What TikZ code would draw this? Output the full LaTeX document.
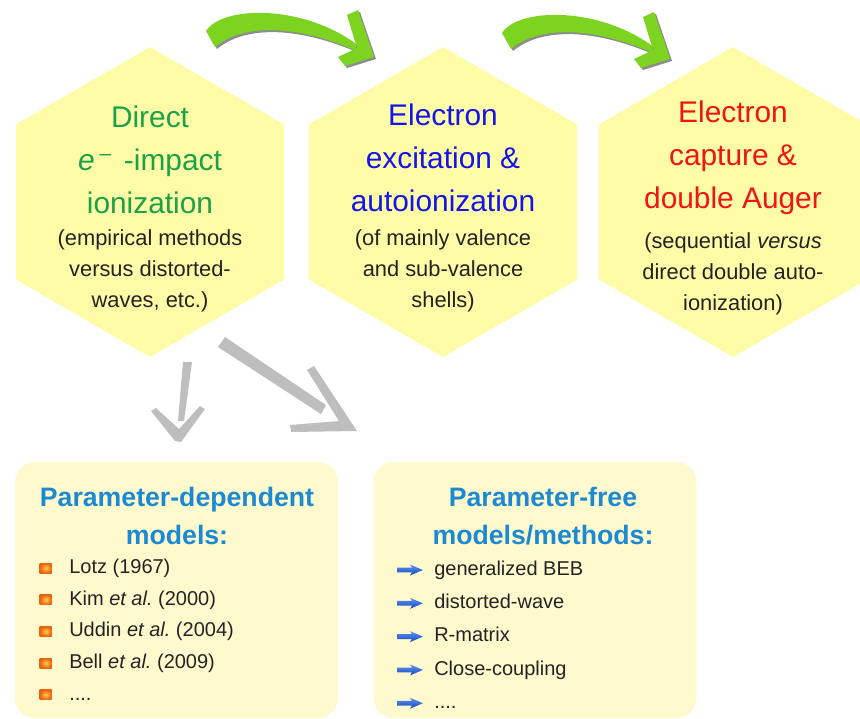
\documentclass[tikz,border=0pt]{standalone}
\usepackage{fontspec}
\setmainfont{Liberation Sans}
\usepackage{tikz}
\usetikzlibrary{shapes.geometric,positioning}
\definecolor{hive yellow}{RGB}{255,252,168}
\definecolor{pale cream}{RGB}{255,249,206}
\definecolor{leaf green}{RGB}{125,212,32}
\definecolor{ash gray}{RGB}{190,190,190}
\definecolor{ink}{RGB}{35,35,35}
\definecolor{direct green}{RGB}{28,160,72}
\definecolor{excite blue}{RGB}{20,20,235}
\definecolor{capture red}{RGB}{240,20,20}
\definecolor{title blue}{RGB}{28,138,210}
\newcommand{\fourdots}{....}

\tikzset{
	hexa/.style={regular polygon, regular polygon sides=6, shape border rotate=30,
		minimum size=232.5pt, inner sep=0pt, fill=hive yellow},
	hextitle/.style={align=center, font=\fontsize{22.4}{32.3}\selectfont},
	hexnote/.style={align=center, text=ink, font=\fontsize{16.4}{23.3}\selectfont},
	modelbox/.style={rectangle, rounded corners=15pt, fill=pale cream,
		minimum width=242.25pt, minimum height=192pt},
	boxtitle/.style={align=center, text=title blue, font=\bfseries\fontsize{20}{28.5}\selectfont},
	listitem/.style={anchor=west, inner sep=0pt, text=ink, text height=11pt, text depth=3pt,
		font=\fontsize{15}{18}\selectfont},
	sqbullet/.style={rectangle, minimum width=9pt, minimum height=7.5pt, inner sep=0pt,
		inner color={rgb,255:red,255;green,205;blue,70}, outer color={rgb,255:red,236;green,96;blue,18}},
	arrowbullet/.style={top color={rgb,255:red,95;green,150;blue,240}, bottom color={rgb,255:red,20;green,70;blue,190}}
}

\begin{document}
\frenchspacing
\begin{tikzpicture}[x=0.75pt, y=-0.75pt]
	\useasboundingbox (0,0) rectangle (860,718);
	% the three processes
	\node[hexa] (direct) at (150,202) {};
	\node[hexa] (excite) at (443,202) {};
	\node[hexa] (capture) at (733,202) {};
	\node[hextitle, text=direct green] (directTitle) at (150,160)
		{Direct\\ \textit{e}\,\textsuperscript{--}\hspace{0.4em}-impact\\ ionization};
	\node[hexnote] (directNote) at (150,271)
		{(empirical methods\\ versus distorted-\\ waves, etc.)};
	\node[hextitle, text=excite blue] (exciteTitle) at (443,158)
		{Electron\\ excitation \&\\ autoionization};
	\node[hexnote] (exciteNote) at (443,271)
		{(of mainly valence\\ and sub-valence\\ shells)};
	\node[hextitle, text=capture red] (captureTitle) at (733,158)
		{Electron\\ capture \&\\ double Auger};
	\node[hexnote] (captureNote) at (733,274)
		{(sequential \textit{versus}\\ direct double auto-\\ ionization)};

	% green swooshes between the hexagons, shadow first
	\foreach \dx/\dy in {0/0, 296/2} {
		\foreach \off/\col in {2/black!45, 0/leaf green} {
			\begin{scope}[shift={(\dx+\off,\dy+\off)}]
				\fill[\col] (206,31) .. controls (222,6) and (300,4) .. (355,43)
					-- (357,51) .. controls (300,26) and (245,22) .. (215,47) -- cycle;
				\fill[\col] (347,15) -- (358,10) -- (374,57) -- (345,66)
					-- (338,57) -- (357,48) -- cycle;
			\end{scope}
		}
	}

	% gray arrows down to the model boxes
	\fill[ash gray] (183,362) -- (192,362) -- (184,421) -- (178,421) -- cycle;
	\fill[ash gray] (151,411) -- (156,408) -- (179,429) -- (200,406) -- (205,409)
		-- (181,442) -- (175,441) -- cycle;
	\fill[ash gray] (225,337) -- (326,405) -- (321,414) -- (218,347) -- cycle;
	\fill[ash gray] (307,370) -- (314,366) -- (357,431) -- (291,432)
		-- (290,425) -- (339,421) -- cycle;

	% model boxes
	\node[modelbox] (depbox) at (176.5,590) {};
	\node[modelbox] (freebox) at (535,590) {};
	\node[boxtitle] (depTitle) at (177,516) {Parameter-dependent\\ models:};
	\node[boxtitle] (freeTitle) at (543,516) {Parameter-free\\ models/methods:};

	\foreach \txt [count=\i] in {Lotz (1967), Kim \textit{et al.} (2000),
			Uddin \textit{et al.} (2004), Bell \textit{et al.} (2009), \fourdots} {
		\node[listitem] (dep\i) at (69,536.3+31.7*\i) {\txt};
		\node[sqbullet, left=12.75pt of dep\i] (dot\i) {};
	}
	\foreach \txt [count=\i] in {generalized BEB, distorted-wave, R-matrix,
			Close-coupling, \fourdots} {
		\node[listitem] (free\i) at (434,536.7+33.3*\i) {\txt};
		\coordinate[left=8.25pt of free\i] (tip\i);
		\shade[arrowbullet, shift={(tip\i)}] (0,0) -- (-13,-5.5) -- (-11,-2.4) -- (-26,-2.4)
			-- (-26,2.4) -- (-11,2.4) -- (-13,5.5) -- cycle;
	}
\end{tikzpicture}
\end{document}
